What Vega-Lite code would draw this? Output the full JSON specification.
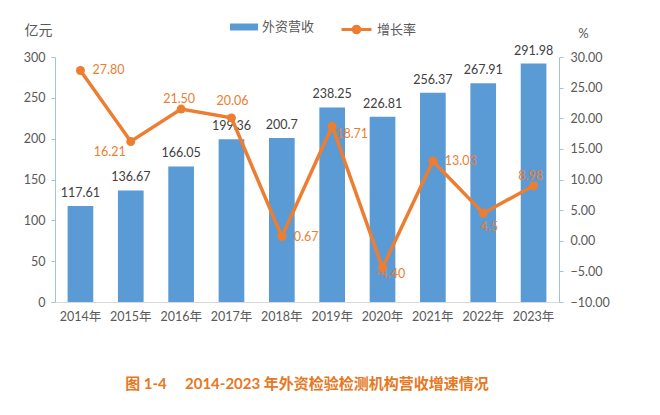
{
  "$schema": "https://vega.github.io/schema/vega-lite/v6.json",
  "width": 504,
  "height": 245,
  "autosize": {"type": "none"},
  "padding": {"left": 55, "top": 57, "right": 101, "bottom": 113},
  "background": "white",
  "config": {
    "view": {"stroke": null},
    "font": "Lato, Noto Sans CJK SC",
    "axis": {"labelFont": "Lato, Noto Sans CJK SC", "titleFont": "Lato, Noto Sans CJK SC", "labelColor": "#595959", "titleColor": "#595959", "labelFontSize": 12.5, "grid": false, "labelOverlap": false, "labelFlush": false},
    "legend": {"labelFont": "Noto Sans CJK SC", "labelColor": "#595959", "labelFontSize": 13}
  },
  "title": {
    "text": "图 1-4\u00a0\u00a0\u00a0\u00a0 2014-2023 年外资检验检测机构营收增速情况",
    "orient": "bottom",
    "anchor": "middle",
    "offset": 54,
    "font": "Lato, Noto Sans CJK SC",
    "fontSize": 15,
    "fontWeight": "bold",
    "color": "#E87722"
  },
  "data": {
    "values": [
      {"year": "2014年", "revenue": 117.61, "growth": 27.80, "rlabel": "117.61", "glabel": "27.80"},
      {"year": "2015年", "revenue": 136.67, "growth": 16.21, "rlabel": "136.67", "glabel": "16.21"},
      {"year": "2016年", "revenue": 166.05, "growth": 21.50, "rlabel": "166.05", "glabel": "21.50"},
      {"year": "2017年", "revenue": 199.36, "growth": 20.06, "rlabel": "199.36", "glabel": "20.06"},
      {"year": "2018年", "revenue": 200.7, "growth": 0.67, "rlabel": "200.7", "glabel": "0.67"},
      {"year": "2019年", "revenue": 238.25, "growth": 18.71, "rlabel": "238.25", "glabel": "18.71"},
      {"year": "2020年", "revenue": 226.81, "growth": -4.40, "rlabel": "226.81", "glabel": "-4.40"},
      {"year": "2021年", "revenue": 256.37, "growth": 13.03, "rlabel": "256.37", "glabel": "13.03"},
      {"year": "2022年", "revenue": 267.91, "growth": 4.5, "rlabel": "267.91", "glabel": "4.5"},
      {"year": "2023年", "revenue": 291.98, "growth": 8.98, "rlabel": "291.98", "glabel": "8.98"}
    ]
  },
  "encoding": {
    "x": {
      "field": "year", "type": "nominal", "sort": null,
      "scale": {"paddingInner": 0.49, "paddingOuter": 0.25},
      "axis": {"title": null, "labelAngle": 0, "ticks": false, "domainColor": "#d9d9d9", "labelPadding": 8, "labelFontSize": 12.5}
    }
  },
  "layer": [
    {
      "layer": [
        {
          "mark": {"type": "bar"},
          "encoding": {
            "y": {
              "field": "revenue", "type": "quantitative",
              "scale": {"domain": [0, 300]},
              "axis": {"values": [0, 50, 100, 150, 200, 250, 300], "labelOverlap": false, "title": "亿元", "titleAngle": 0, "titleX": -17, "titleY": -27, "titleAlign": "center", "titleBaseline": "middle", "titleFontSize": 14, "titleFontWeight": "normal", "domainColor": "#9DC3E6", "tickColor": "#9DC3E6", "tickSize": 4, "labelPadding": 6}
            },
            "fill": {"datum": "外资营收", "type": "nominal", "scale": {"range": ["#5B9BD5"]},
              "legend": {"title": null, "orient": "none", "legendX": 175, "legendY": -44, "symbolType": "M-1,-0.25H1V0.25H-1Z", "symbolSize": 784, "symbolStrokeWidth": 0, "labelOffset": 4}}
          }
        },
        {
          "mark": {"type": "text", "baseline": "middle", "dy": -13, "fontSize": 12.5, "color": "#404040", "font": "Lato"},
          "encoding": {
            "y": {"field": "revenue", "type": "quantitative", "scale": {"domain": [0, 300]}},
            "text": {"field": "rlabel"}
          }
        }
      ]
    },
    {
      "layer": [
        {
          "mark": {"type": "line", "strokeWidth": 3.5},
          "encoding": {
            "y": {
              "field": "growth", "type": "quantitative",
              "scale": {"domain": [-10, 30]},
              "axis": {"orient": "right", "values": [-10, -5, 0, 5, 10, 15, 20, 25, 30], "labelOverlap": false, "tickCount": 9, "format": ".2f", "title": "%", "titleAngle": 0, "titleX": 24, "titleY": -24, "titleAlign": "center", "titleBaseline": "middle", "titleFontSize": 13, "titleFontWeight": "normal", "domainColor": "#9DC3E6", "tickColor": "#9DC3E6", "tickSize": 4, "labelPadding": 7}
            },
            "stroke": {"datum": "增长率", "type": "nominal", "scale": {"range": ["#ED7D31"]},
              "legend": {"title": null, "orient": "none", "legendX": 285, "legendY": -44, "symbolType": "M-1,0H1M0.22,0A0.22,0.22,0,1,1,-0.22,0A0.22,0.22,0,1,1,0.22,0Z", "symbolSize": 900, "symbolStrokeWidth": 3, "symbolFillColor": "#ED7D31", "labelOffset": 4}}
          }
        },
        {
          "mark": {"type": "point", "filled": true, "size": 80, "color": "#ED7D31", "opacity": 1},
          "encoding": {"y": {"field": "growth", "type": "quantitative", "scale": {"domain": [-10, 30]}}}
        },
        {
          "transform": [{"filter": "indexof(['2014年','2018年','2021年'], datum.year) >= 0"}],
          "mark": {"type": "text", "align": "left", "baseline": "middle", "dx": 12, "fontSize": 12.5, "color": "#ED7D31", "font": "Lato"},
          "encoding": {"y": {"field": "growth", "type": "quantitative", "scale": {"domain": [-10, 30]}}, "text": {"field": "glabel"}}
        },
        {
          "transform": [{"filter": "datum.year == '2019年'"}],
          "mark": {"type": "text", "align": "left", "baseline": "middle", "dx": 4, "dy": 8, "fontSize": 12.5, "color": "#ED7D31", "font": "Lato"},
          "encoding": {"y": {"field": "growth", "type": "quantitative", "scale": {"domain": [-10, 30]}}, "text": {"field": "glabel"}}
        },
        {
          "transform": [{"filter": "datum.year == '2015年'"}],
          "mark": {"type": "text", "align": "right", "baseline": "middle", "dx": -5, "dy": 11, "fontSize": 12.5, "color": "#ED7D31", "font": "Lato"},
          "encoding": {"y": {"field": "growth", "type": "quantitative", "scale": {"domain": [-10, 30]}}, "text": {"field": "glabel"}}
        },
        {
          "transform": [{"filter": "datum.year == '2016年'"}],
          "mark": {"type": "text", "align": "center", "baseline": "middle", "dx": -2, "dy": -10, "fontSize": 12.5, "color": "#ED7D31", "font": "Lato"},
          "encoding": {"y": {"field": "growth", "type": "quantitative", "scale": {"domain": [-10, 30]}}, "text": {"field": "glabel"}}
        },
        {
          "transform": [{"filter": "datum.year == '2017年'"}],
          "mark": {"type": "text", "align": "center", "baseline": "middle", "dx": 1, "dy": -17, "fontSize": 12.5, "color": "#ED7D31", "font": "Lato"},
          "encoding": {"y": {"field": "growth", "type": "quantitative", "scale": {"domain": [-10, 30]}}, "text": {"field": "glabel"}}
        },
        {
          "transform": [{"filter": "datum.year == '2020年'"}],
          "mark": {"type": "text", "align": "center", "baseline": "middle", "dx": 8, "dy": 6, "fontSize": 12.5, "color": "#ED7D31", "font": "Lato"},
          "encoding": {"y": {"field": "growth", "type": "quantitative", "scale": {"domain": [-10, 30]}}, "text": {"field": "glabel"}}
        },
        {
          "transform": [{"filter": "datum.year == '2022年'"}],
          "mark": {"type": "text", "align": "center", "baseline": "middle", "dx": 6, "dy": 14, "fontSize": 12.5, "color": "#ED7D31", "font": "Lato"},
          "encoding": {"y": {"field": "growth", "type": "quantitative", "scale": {"domain": [-10, 30]}}, "text": {"field": "glabel"}}
        },
        {
          "transform": [{"filter": "datum.year == '2023年'"}],
          "mark": {"type": "text", "align": "center", "baseline": "middle", "dx": -3, "dy": -10, "fontSize": 12.5, "color": "#ED7D31", "font": "Lato"},
          "encoding": {"y": {"field": "growth", "type": "quantitative", "scale": {"domain": [-10, 30]}}, "text": {"field": "glabel"}}
        }
      ]
    }
  ],
  "resolve": {"scale": {"y": "independent"}}
}
